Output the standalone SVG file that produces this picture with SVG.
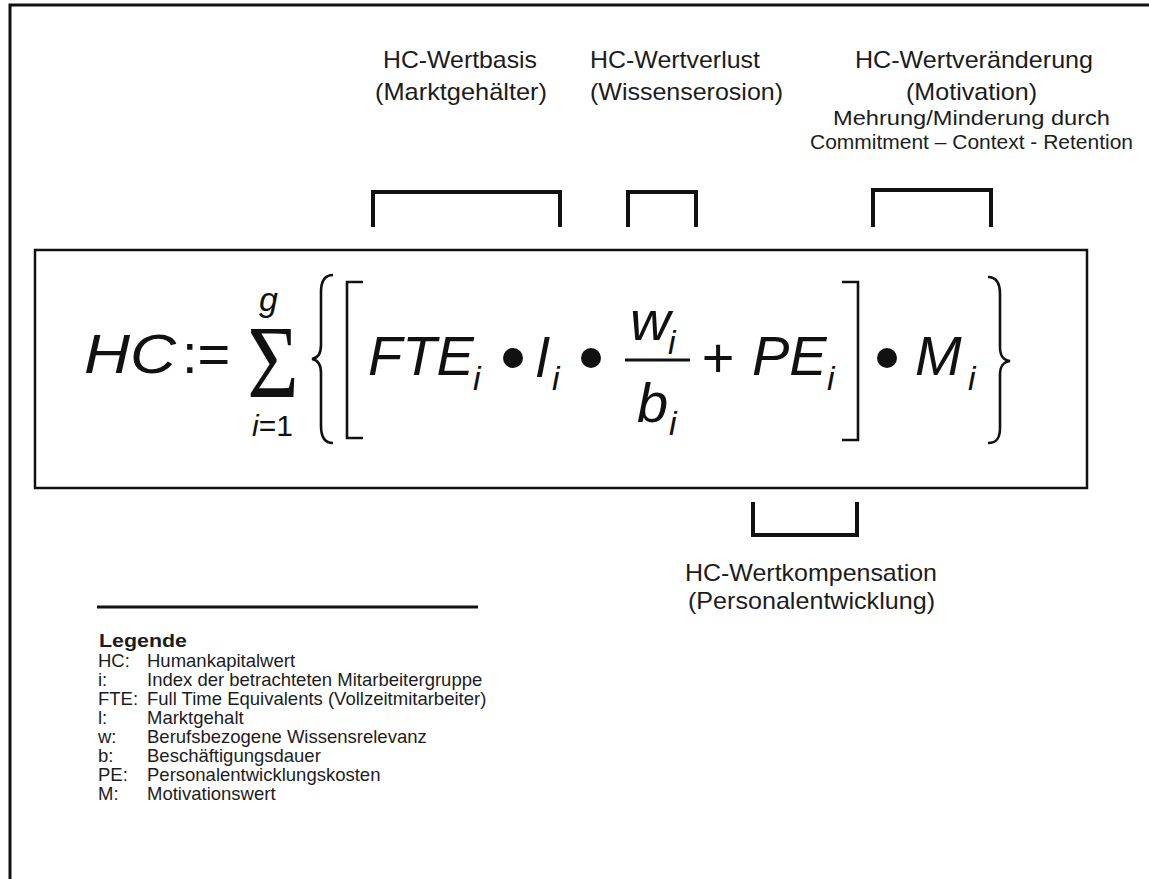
<svg xmlns="http://www.w3.org/2000/svg" width="1149" height="879" viewBox="0 0 1149 879">
<style>
.t{font-family:"Liberation Sans",Arial,sans-serif;fill:#1c1c1c}
.h{font-size:24px}
.s{font-size:20px}
.m{font-family:"Liberation Sans",Arial,sans-serif;font-style:italic;font-size:56px;fill:#111}
.u{font-family:"Liberation Sans",Arial,sans-serif;font-size:56px;fill:#111}
.sub{font-family:"Liberation Sans",Arial,sans-serif;font-style:italic;font-size:34px;fill:#111}
.lg{font-family:"Liberation Sans",Arial,sans-serif;font-size:18.5px;fill:#1c1c1c}
.br{fill:none;stroke:#111;stroke-width:4;stroke-linejoin:miter}
.dl{fill:none;stroke:#111;stroke-width:2.6}
</style>
<rect width="1149" height="879" fill="#fff"/>
<path d="M10,879 V5 H1149" fill="none" stroke="#111" stroke-width="3"/>

<g id="formula">
<rect x="35" y="250" width="1052" height="238" fill="none" stroke="#111" stroke-width="2.5"/>
<text class="m" x="84" y="373" textLength="92" lengthAdjust="spacingAndGlyphs">HC</text>
<text class="u" x="182" y="373">:=</text>
<text x="273" y="397" text-anchor="middle" font-family="Liberation Serif,serif" font-size="104" fill="#111" transform="translate(273,0) scale(0.85,1) translate(-273,0)">Σ</text>
<text class="sub" x="259" y="311" font-size="30">g</text>
<text x="252" y="436" font-family="Liberation Sans,Arial,sans-serif" font-size="30" fill="#111"><tspan font-style="italic">i</tspan>=1</text>
<path class="dl" d="M333,275 C324,275 321,282 321,292 V345 C321,354 318,358 312,359 C318,360 321,364 321,373 V426 C321,436 324,443 333,443"/>
<path class="dl" d="M363,282 H347 V438 H363"/>
<text class="m" x="368" y="375">FTE</text>
<text class="sub" x="473" y="390">i</text>
<circle cx="513" cy="358" r="10" fill="#111"/>
<text class="m" x="536" y="377">l</text>
<text class="sub" x="552" y="390">i</text>
<circle cx="591" cy="358" r="10" fill="#111"/>
<text class="m" x="630" y="340">w</text>
<text class="sub" x="668" y="354">i</text>
<line x1="625" y1="360" x2="690" y2="360" stroke="#111" stroke-width="3"/>
<text class="m" x="637" y="422">b</text>
<text class="sub" x="669" y="435">i</text>
<text class="u" x="718" y="377" text-anchor="middle">+</text>
<text class="m" x="752" y="375">PE</text>
<text class="sub" x="827" y="390">i</text>
<path class="dl" d="M842,282 H858 V440 H842"/>
<circle cx="887" cy="358" r="10" fill="#111"/>
<text class="m" x="915" y="375">M</text>
<text class="sub" x="968" y="390">i</text>
<path class="dl" d="M988,277 C997,277 1000,284 1000,294 V347 C1000,356 1003,360 1010,361 C1003,362 1000,366 1000,375 V428 C1000,438 997,443 988,443"/>
</g>

<g id="connectors">
<path class="br" d="M373,227 V192 H560 V227"/>
<path class="br" d="M628,227 V192 H696 V227"/>
<path class="br" d="M873,227 V190 H991 V227"/>
<path class="br" d="M753,502 V535 H857 V502"/>
</g>

<g id="wertbasis">
<text class="t h" x="383" y="68" textLength="154" lengthAdjust="spacingAndGlyphs">HC-Wertbasis</text>
<text class="t h" x="375" y="100" textLength="172" lengthAdjust="spacingAndGlyphs">(Marktgehälter)</text>
</g>
<g id="wertverlust">
<text class="t h" x="590" y="68" textLength="170" lengthAdjust="spacingAndGlyphs">HC-Wertverlust</text>
<text class="t h" x="590" y="100" textLength="193" lengthAdjust="spacingAndGlyphs">(Wissenserosion)</text>
</g>
<g id="wertveraenderung">
<text class="t h" x="855" y="68" textLength="238" lengthAdjust="spacingAndGlyphs">HC-Wertveränderung</text>
<text class="t h" x="906" y="100" textLength="131" lengthAdjust="spacingAndGlyphs">(Motivation)</text>
<text class="t s" x="833" y="125" textLength="277" lengthAdjust="spacingAndGlyphs">Mehrung/Minderung durch</text>
<text class="t s" x="810" y="149" textLength="323" lengthAdjust="spacingAndGlyphs">Commitment – Context - Retention</text>
</g>
<g id="wertkompensation">
<text class="t h" x="685" y="581" textLength="252" lengthAdjust="spacingAndGlyphs">HC-Wertkompensation</text>
<text class="t h" x="688" y="609" textLength="247" lengthAdjust="spacingAndGlyphs">(Personalentwicklung)</text>
</g>

<g id="legend">
<line x1="97" y1="607" x2="478" y2="607" stroke="#111" stroke-width="3"/>
<text class="lg" x="99" y="647" font-weight="bold" font-size="19" textLength="88" lengthAdjust="spacingAndGlyphs">Legende</text>
<text class="lg" x="98" y="667">HC:</text><text class="lg" x="147" y="667">Humankapitalwert</text>
<text class="lg" x="98" y="686">i:</text><text class="lg" x="147" y="686">Index der betrachteten Mitarbeitergruppe</text>
<text class="lg" x="98" y="705">FTE:</text><text class="lg" x="147" y="705">Full Time Equivalents (Vollzeitmitarbeiter)</text>
<text class="lg" x="98" y="724">l:</text><text class="lg" x="147" y="724">Marktgehalt</text>
<text class="lg" x="98" y="743">w:</text><text class="lg" x="147" y="743">Berufsbezogene Wissensrelevanz</text>
<text class="lg" x="98" y="762">b:</text><text class="lg" x="147" y="762">Beschäftigungsdauer</text>
<text class="lg" x="98" y="781">PE:</text><text class="lg" x="147" y="781">Personalentwicklungskosten</text>
<text class="lg" x="98" y="800">M:</text><text class="lg" x="147" y="800">Motivationswert</text>
</g>
</svg>
